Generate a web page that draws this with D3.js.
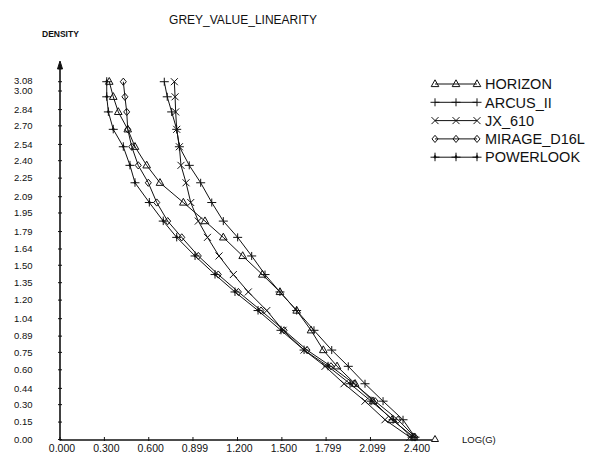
<!DOCTYPE html>
<html>
<head>
<meta charset="utf-8">
<script src="https://cdn.jsdelivr.net/npm/d3@7"></script>
<style>
body { margin:0; background:#fff }
svg text { font-family:'Liberation Sans', Arial, sans-serif; fill:#111 }
</style>
</head>
<body>
<svg id="chart" width="591" height="452"></svg>
<script>
// density steps of the wedge (shared by all scanners)
var density   = [3.08, 2.95, 2.82, 2.67, 2.52, 2.36, 2.21, 2.04, 1.88, 1.74, 1.58,
                 1.42, 1.27, 1.11, 0.94, 0.77, 0.63, 0.48, 0.33, 0.17, 0.02]

// log(G) per step
var horizon   = [0.333, 0.360, 0.394, 0.458, 0.507, 0.586, 0.676, 0.834, 0.980, 1.104, 1.235,
                 1.368, 1.487, 1.600, 1.697, 1.780, 1.873, 1.995, 2.116, 2.245, 2.393]
var arcus     = [0.705, 0.725, 0.755, 0.789, 0.807, 0.874, 0.951, 1.026, 1.104, 1.201, 1.296,
                 1.386, 1.487, 1.600, 1.717, 1.837, 1.949, 2.062, 2.184, 2.319, 2.400]
var jx610     = [0.773, 0.778, 0.782, 0.789, 0.807, 0.818, 0.852, 0.884, 0.935, 0.997, 1.075,
                 1.172, 1.273, 1.398, 1.508, 1.650, 1.792, 1.920, 2.062, 2.197, 2.366]
var mirage    = [0.428, 0.439, 0.451, 0.458, 0.485, 0.529, 0.597, 0.654, 0.728, 0.823, 0.935,
                 1.070, 1.206, 1.359, 1.515, 1.670, 1.832, 1.988, 2.130, 2.285, 2.400]
var powerlook = [0.316, 0.316, 0.327, 0.360, 0.428, 0.473, 0.507, 0.604, 0.698, 0.789, 0.913,
                 1.048, 1.183, 1.339, 1.494, 1.650, 1.812, 1.961, 2.103, 2.252, 2.380]

var names   = ['HORIZON', 'ARCUS_II', 'JX_610', 'MIRAGE_D16L', 'POWERLOOK']
var markers = ['triangle', 'plus', 'cross', 'diamond', 'star']
var values  = [horizon, arcus, jx610, mirage, powerlook]

var xTicks  = [0, 0.3, 0.6, 0.899, 1.2, 1.5, 1.799, 2.099, 2.4]
var xLabels = ['0.000', '0.300', '0.600', '0.899', '1.200', '1.500', '1.799', '2.099', '2.400']
var yLabels = ['0.00', '0.15', '0.30', '0.44', '0.60', '0.75', '0.89', '1.04', '1.20', '1.35', '1.50',
               '1.64', '1.79', '1.95', '2.09', '2.25', '2.40', '2.54', '2.70', '2.84', '3.00', '3.08']

var svg = d3.select('#chart')
var x = d3.scaleLinear().domain([0, 2.4]).range([60, 415])
var y = d3.scaleLinear().domain([0, 3.0]).range([439.5, 91])
var ink = '#111'

// plotter style marker glyphs
function markerPath(kind)
{
    if (kind == 'triangle') return 'M0,-4.2L3.8,2.6L-3.8,2.6Z'
    if (kind == 'plus')     return 'M-4.5,0H4.5M0,-4V4'
    if (kind == 'cross')    return 'M-3.5,-3.5L3.5,3.5M-3.5,3.5L3.5,-3.5'
    if (kind == 'diamond')  return 'M0,-3.6L3,0L0,3.6L-3,0Z'
    return 'M-4.5,0H4.5M0,-4.5V4'
}

function drawMarker(g, kind, cx, cy)
{
    g.append('path')
        .attr('transform', 'translate(' + cx + ',' + cy + ')')
        .attr('d', markerPath(kind))
        .attr('fill', 'none')
        .attr('stroke', ink)
        .attr('stroke-width', 1)
    if (kind == 'star')
        g.append('path')
            .attr('transform', 'translate(' + cx + ',' + cy + ')')
            .attr('d', 'M0,-2.6L1.6,0L0,1.6L-1.6,0Z')
            .attr('fill', ink)
}

// title + axis names
svg.append('text').attr('x', 243).attr('y', 24).attr('text-anchor', 'middle')
    .style('font-size', '12px').text('GREY_VALUE_LINEARITY')
svg.append('text').attr('x', 42).attr('y', 36.5)
    .style('font-size', '8.5px').style('font-weight', 'bold').text('DENSITY')
svg.append('text').attr('x', 462).attr('y', 443)
    .style('font-size', '9.5px').text('LOG(G)')

// axes
var axes = svg.append('g').attr('stroke', ink)
axes.append('line').attr('x1', 60).attr('y1', 440).attr('x2', 60).attr('y2', 66).attr('stroke-width', 1.6)
axes.append('path').attr('d', 'M60,61L57.5,69L62.5,69Z').attr('fill', ink)
axes.append('line').attr('x1', 60).attr('y1', 440).attr('x2', 432).attr('y2', 440).attr('stroke-width', 1.6)
axes.append('path').attr('d', 'M435,435.5L438.5,441.5L431.5,441.5Z').attr('fill', 'none').attr('stroke-width', 1)

yLabels.forEach(function (l) {
    var yy = y(+l)
    axes.append('line').attr('x1', 58).attr('x2', 62).attr('y1', yy).attr('y2', yy)
    // 3.08 sits right on top of 3.00 in the original, nudge it up a hair
    svg.append('text').attr('x', 14).attr('y', l == '3.08' ? yy - 1.2 : yy).attr('dy', '0.35em')
        .style('font-size', '9.5px').text(l)
})

xTicks.forEach(function (t, i) {
    var xx = x(t)
    axes.append('line').attr('x1', xx).attr('x2', xx).attr('y1', 437).attr('y2', 441)
    svg.append('text').attr('x', xx + 2).attr('y', 451.5).attr('text-anchor', 'middle')
        .style('font-size', '10.5px').text(xLabels[i])
})

// curves
var line = d3.line().curve(d3.curveLinear)
values.forEach(function (v, si) {
    var pts = v.map((lg, k)=> [x(lg), y(density[k])])
    svg.append('path').attr('d', line(pts))
        .attr('fill', 'none').attr('stroke', ink).attr('stroke-width', 1)
    var g = svg.append('g')
    pts.forEach(p=> drawMarker(g, markers[si], p[0], p[1]))
})

// legend
names.forEach(function (n, i) {
    var ly = 84 + i * 18.3
    var g = svg.append('g')
    g.append('line').attr('x1', 435).attr('x2', 477).attr('y1', ly).attr('y2', ly)
        .attr('stroke', ink).attr('stroke-width', 1)
    ;[435, 456, 477].forEach(lx=> drawMarker(g, markers[i], lx, ly))
    svg.append('text').attr('x', 485).attr('y', ly).attr('dy', '0.36em')
        .style('font-size', '14.5px').text(n)
})
</script>
</body>
</html>
